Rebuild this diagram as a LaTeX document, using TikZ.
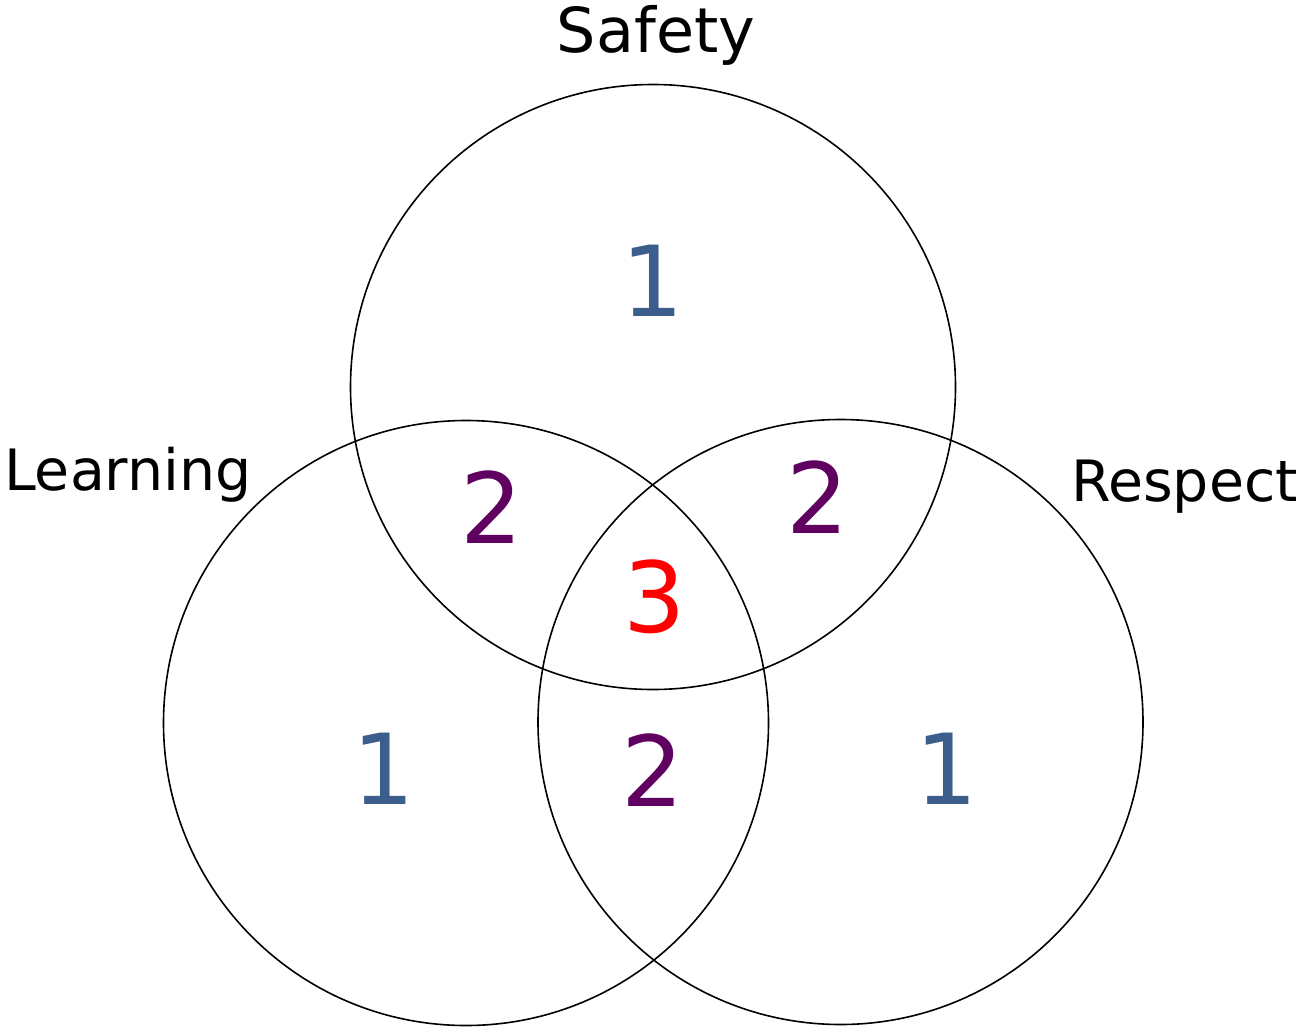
\documentclass[tikz,border=0pt]{standalone}
\usepackage{fontspec}
\setmainfont{DejaVu Sans}
\definecolor{oneblue}{HTML}{3C5E8C}
\definecolor{twopurple}{HTML}{600060}
\definecolor{threered}{HTML}{FF0000}
\begin{document}
\begin{tikzpicture}[x=1pt,y=-1pt,
  ring/.style={draw=black,line width=1.6pt},
  title/.style={font=\fontsize{62}{66}\selectfont,inner sep=0pt},
  sidetitle/.style={font=\fontsize{57}{60}\selectfont,inner sep=0pt},
  num/.style={font=\fontsize{98}{100}\selectfont,inner sep=0pt}]
\useasboundingbox (0,0) rectangle (1301,1028);
\draw[ring] (653,387) circle (302.5);
\draw[ring] (466,723) circle (302.5);
\draw[ring] (840.5,722) circle (302.5);
\node[title] (safety) at (656,35) {Safety};
\node[sidetitle,anchor=west] (learning) at (4,475) {Learning};
\node[sidetitle,anchor=east] (respect) at (1298,487) {Respect};
\node[num,text=oneblue] (s1) at (653,281) {1};
\node[num,text=oneblue] (l1) at (384,769) {1};
\node[num,text=oneblue] (r1) at (947,769) {1};
\node[num,text=twopurple] (ls2) at (492,507) {2};
\node[num,text=twopurple] (sr2) at (818,497) {2};
\node[num,text=twopurple] (lr2) at (653,770) {2};
\node[num,text=threered] (c3) at (655,597) {3};
\end{tikzpicture}
\end{document}
